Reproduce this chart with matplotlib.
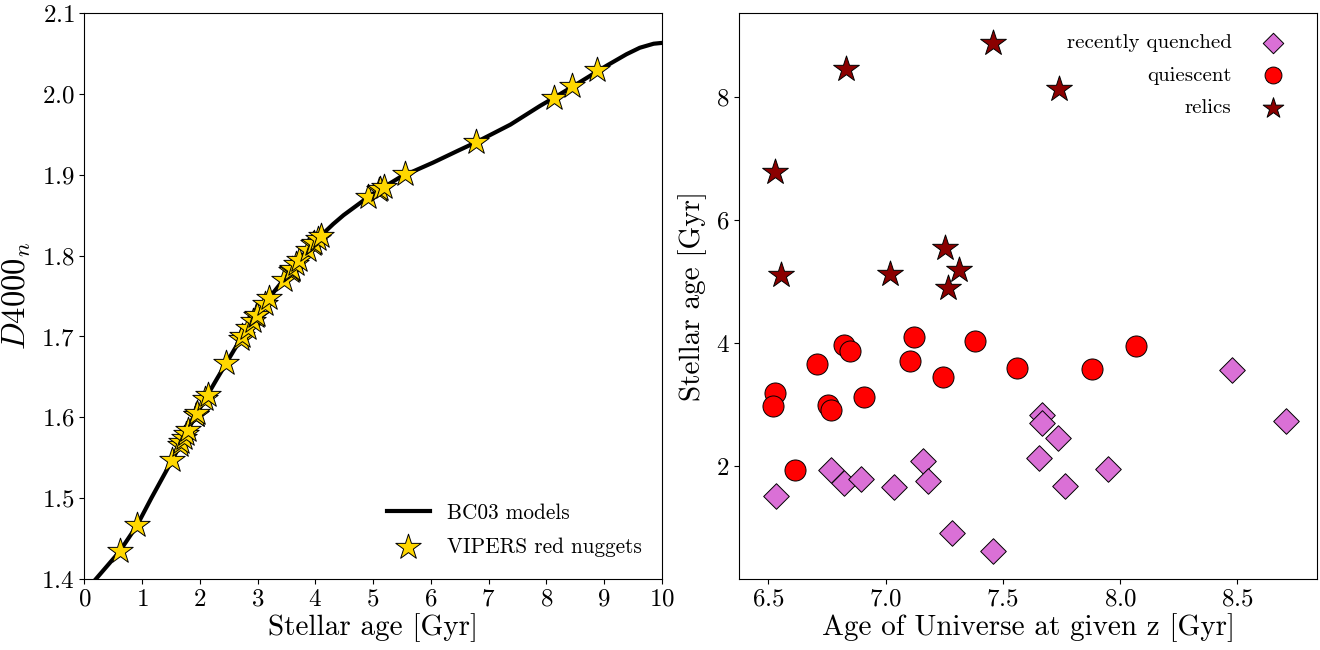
import matplotlib
matplotlib.use("Agg")
import matplotlib.pyplot as plt

plt.rcParams['font.family'] = 'serif'
plt.rcParams['font.serif'] = ['cmr10', 'DejaVu Serif']
plt.rcParams['mathtext.fontset'] = 'cm'
plt.rcParams['axes.formatter.use_mathtext'] = True
plt.rcParams['axes.unicode_minus'] = False

# ---- left panel: BC03 model curve ----
model_age = [0.2, 0.61, 0.91, 1.16, 1.49, 1.91, 2.30, 2.70, 3.17, 3.63, 3.85, 4.03,
             4.31, 4.49, 4.89, 5.01, 5.47, 6.04, 6.48, 6.78, 7.38, 7.89, 8.13, 8.48,
             9.05, 9.39, 9.62, 9.86, 10.0]
model_d4000 = [1.400, 1.434, 1.466, 1.500, 1.543, 1.600, 1.648, 1.696, 1.745, 1.786,
               1.806, 1.820, 1.839, 1.850, 1.871, 1.877, 1.897, 1.915, 1.930, 1.940,
               1.962, 1.985, 1.995, 2.010, 2.035, 2.049, 2.057, 2.062, 2.063]

# VIPERS red nuggets (age, D4000n)
nugget_age = [0.619, 0.92, 1.517, 1.659, 1.678, 1.729, 1.755, 1.793, 1.935, 1.935,
              1.954, 2.095, 2.14, 2.461, 2.705, 2.737, 2.833, 2.917, 2.98, 2.99,
              3.122, 3.199, 3.456, 3.571, 3.59, 3.603, 3.668, 3.719, 3.873, 3.956,
              3.976, 4.04, 4.097, 4.906, 5.11, 5.125, 5.195, 5.55, 6.78, 8.13,
              8.45, 8.88]
nugget_d4000 = [1.435, 1.467, 1.547, 1.566, 1.569, 1.575, 1.579, 1.584, 1.603, 1.603,
                1.605, 1.623, 1.628, 1.667, 1.697, 1.700, 1.710, 1.719, 1.725, 1.726,
                1.740, 1.748, 1.770, 1.781, 1.782, 1.784, 1.789, 1.794, 1.807, 1.814,
                1.815, 1.821, 1.824, 1.872, 1.881, 1.882, 1.885, 1.901, 1.940, 1.995,
                2.010, 2.030]

# ---- right panel ----
rq_univ = [6.533, 6.765, 6.822, 6.894, 7.034, 7.159, 7.180, 7.282, 7.460, 7.666,
           7.666, 7.737, 7.655, 7.766, 7.947, 8.476, 8.710]
rq_age = [1.517, 1.935, 1.729, 1.793, 1.659, 2.095, 1.755, 0.920, 0.619, 2.833,
          2.705, 2.461, 2.140, 1.678, 1.954, 3.571, 2.737]

q_univ = [6.528, 6.521, 6.613, 6.708, 6.755, 6.765, 6.822, 6.847, 6.908, 7.102,
          7.120, 7.244, 7.382, 7.5625, 7.882, 8.068]
q_age = [3.199, 2.980, 1.935, 3.668, 2.990, 2.917, 3.976, 3.873, 3.122, 3.719,
         4.097, 3.456, 4.040, 3.603, 3.590, 3.956]

relic_univ = [7.456, 6.829, 6.528, 6.554, 7.020, 7.254, 7.314, 7.265, 7.740]
relic_age = [8.88, 8.45, 6.78, 5.11, 5.125, 5.55, 5.195, 4.906, 8.13]

fig = plt.figure(figsize=(13.2, 6.5), dpi=100)
ax1 = fig.add_axes([0.0639, 0.1092, 0.4374, 0.8708])
ax2 = fig.add_axes([0.5601, 0.1092, 0.4374, 0.8708])

ax1.plot(model_age, model_d4000, color='black', lw=3, label='BC03 models', zorder=2)
ax1.scatter(nugget_age, nugget_d4000, marker='*', s=370, c='gold', edgecolors='black',
            linewidths=0.7, label='VIPERS red nuggets', zorder=3)
ax1.set_xlim(0, 10)
ax1.set_ylim(1.4, 2.1)
ax1.set_xticks(range(0, 11))
ax1.set_yticks([1.4, 1.5, 1.6, 1.7, 1.8, 1.9, 2.0, 2.1])
ax1.set_xlabel('Stellar age [Gyr]', fontsize=21, labelpad=2)
ax1.set_ylabel(r'$D4000_n$', fontsize=23.5, labelpad=6)
ax1.tick_params(labelsize=18)
ax1.legend(loc='lower right', frameon=False, fontsize=15.3, handlelength=2.0,
           labelspacing=0.7, scatterpoints=1, bbox_to_anchor=(0.998, 0.005))

ax2.scatter(rq_univ, rq_age, marker='D', s=170, c='orchid', edgecolors='black',
            linewidths=0.7, label='recently quenched', zorder=3)
ax2.scatter(q_univ, q_age, marker='o', s=230, c='red', edgecolors='black',
            linewidths=0.7, label='quiescent', zorder=3)
ax2.scatter(relic_univ, relic_age, marker='*', s=380, c='darkred', edgecolors='black',
            linewidths=0.7, label='relics', zorder=3)
ax2.set_xlim(6.376, 8.839)
ax2.set_ylim(0.17, 9.368)
ax2.set_xticks([6.5, 7.0, 7.5, 8.0, 8.5])
ax2.set_yticks([2, 4, 6, 8])
ax2.set_xlabel('Age of Universe at given z [Gyr]', fontsize=21, labelpad=2)
ax2.set_ylabel('Stellar age [Gyr]', fontsize=21, labelpad=6)
ax2.tick_params(labelsize=18)
ax2.legend(loc='upper right', frameon=False, fontsize=15, markerfirst=False,
           scatterpoints=1, markerscale=0.8, labelspacing=0.67, handletextpad=1.0,
           bbox_to_anchor=(0.993, 0.9965))

fig.savefig('out.png', dpi=100)
